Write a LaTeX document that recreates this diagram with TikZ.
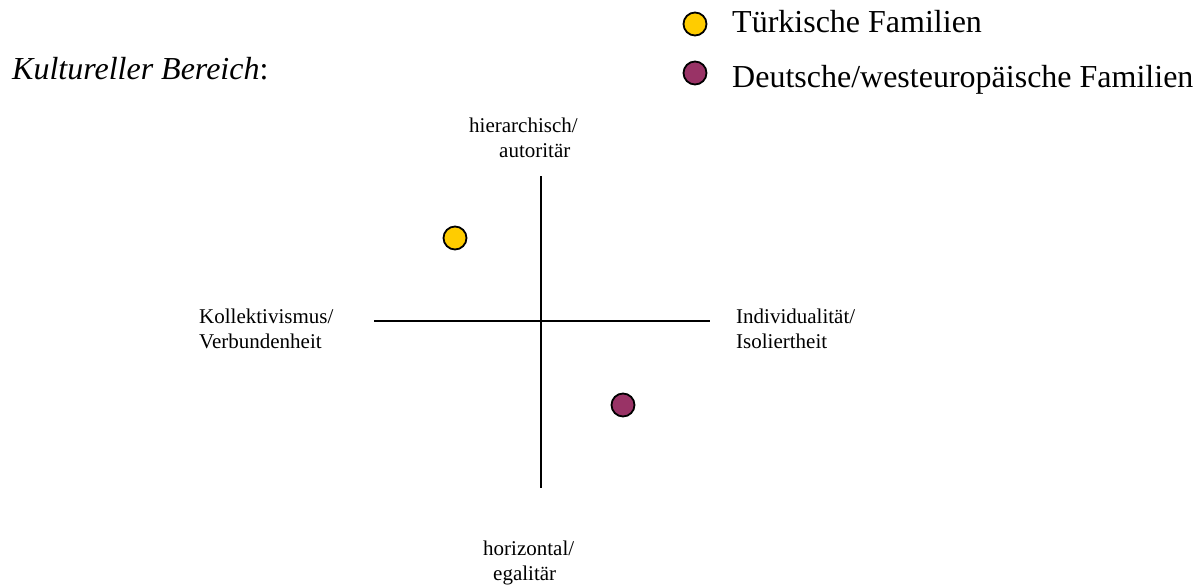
\documentclass[tikz,border=0pt]{standalone}
\usepackage{fontspec}
\setmainfont{Liberation Serif}
\usepackage{tikz}
\definecolor{tuerkgelb}{HTML}{FFCC00}
\definecolor{deutschrot}{HTML}{993366}
\tikzset{
  axisline/.style = {line width=1.6pt,black},
  famdot/.style   = {circle,draw=black,line width=1.8pt,minimum size=23pt,inner sep=0pt},
  axislbl/.style  = {font=\fontsize{21}{25}\selectfont,align=left,inner sep=0pt,anchor=base west},
  biglbl/.style   = {font=\fontsize{32}{38}\selectfont,inner sep=0pt,anchor=base west}
}

\begin{document}
\begin{tikzpicture}[x=1pt,y=-1pt]
  \useasboundingbox (0,0) rectangle (1201,586);
  \coordinate (top) at (541,176);
  \coordinate (bot) at (541,488);
  \coordinate (lft) at (374,321);
  \coordinate (rgt) at (710,321);
  \draw[axisline] (top) -- (bot);
  \draw[axisline] (lft) -- (rgt);
  \node[axislbl] (hier)  at (469,157) {hierarchisch/\\\hspace*{30pt}autoritär};
  \node[axislbl] (horiz) at (483,580) {horizontal/\\\hspace*{10pt}egalitär};
  \node[axislbl] (koll)  at (199,348) {Kollektivismus/\\Verbundenheit};
  \node[axislbl] (indiv) at (736,348) {Individualität/\\Isoliertheit};
  \node[famdot,fill=tuerkgelb]  (tdot) at (455,238) {};
  \node[famdot,fill=deutschrot] (ddot) at (623,405) {};
  \node[biglbl] (bereich) at (12,79) {\textit{Kultureller Bereich}:};
  \node[famdot,fill=tuerkgelb]  (tleg) at (695,24) {};
  \node[famdot,fill=deutschrot] (dleg) at (695,73) {};
  \node[biglbl] (ttxt) at (732,33) {Türkische Familien};
  \node[biglbl] (dtxt) at (732,87) {Deutsche/westeuropäische Familien};
\end{tikzpicture}
\end{document}
